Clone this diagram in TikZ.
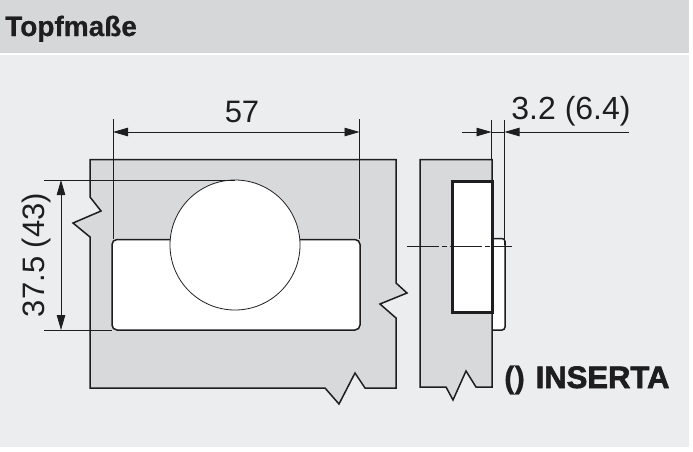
\documentclass[tikz,border=0pt]{standalone}
\usepackage{fontspec}
\setmainfont{Liberation Sans}
\newfontfamily\heavyfont[FakeBold=2.2]{Liberation Sans Bold}
\newfontfamily\semifont[FakeBold=0.6]{Liberation Sans Bold}
\usetikzlibrary{arrows.meta}
\definecolor{bgc}{HTML}{ECEDEF}
\definecolor{hdr}{HTML}{D6D7D9}
\definecolor{part}{HTML}{D8D9DB}
\definecolor{ink}{HTML}{1E1E20}
\tikzset{x=1pt,y=-1pt,
 outline/.style={draw=ink,line width=1.5pt,line join=miter},
 pocket/.style={draw=ink,fill=white,line width=1.5pt},
 thin line/.style={draw=ink,line width=0.8pt},
 dim/.style={draw=ink,line width=0.8pt,{Triangle[length=15pt,width=8.5pt]}-{Triangle[length=15pt,width=8.5pt]}},
 tipr/.style={draw=ink,line width=0.8pt,-{Triangle[length=15pt,width=8.5pt]}},
 lbl/.style={text=ink,font=\fontsize{31}{31}\selectfont,inner sep=0pt}}
\begin{document}
\begin{tikzpicture}
\useasboundingbox (0,0) rectangle (693,451);
\fill[white] (0,0) rectangle (693,451);
\fill[bgc] (0,55) rectangle (689,447);
\fill[hdr] (0,0) rectangle (689,53);
\node[anchor=base west,inner sep=0pt,text=ink,font=\fontsize{28}{28}\selectfont\semifont] (title) at (5,36) {Topfmaße};
% left part
\path[outline,fill=part] (90,159.5) -- (396,159.5) -- (396,283) -- (407,293) -- (380,304) -- (396,318) -- (396,388) -- (365,388) -- (355,373) -- (339,404) -- (325,388) -- (90,388) -- (90,237) -- (73,223) -- (101,211) -- (90,197) -- cycle;
\path[pocket,rounded corners=5pt] (112,239.5) rectangle (360,330);
\fill[white] (235,245) circle (65);
\draw[thin line] (235,245) circle (65);
% right part
\path[outline,fill=white,rounded corners=3pt] (492,238.5) -- (505,238.5) -- (505,330) -- (492,330);
\path[outline,fill=part] (420,159.5) -- (492,159.5) -- (492,387) -- (476,387) -- (466,371) -- (453,400) -- (446,387) -- (420,387) -- cycle;
\path[draw=ink,fill=white,line width=3pt] (452,181.5) rectangle (492,312);
% extension lines
\draw[thin line] (113,119) -- (113,239);
\draw[thin line] (359.5,119) -- (359.5,239);
\draw[thin line] (44,180) -- (235,180);
\draw[thin line] (44,330) -- (112,330);
\draw[thin line] (491.5,120) -- (491.5,160);
\draw[thin line] (504.5,120) -- (504.5,245);
\coordinate (h1) at (113,132);\coordinate (h2) at (359.5,132);
\draw[dim] (h1) -- (h2);
\coordinate (v1) at (61,180);\coordinate (v2) at (61,330);
\draw[dim] (v1) -- (v2);
\coordinate (a0) at (462,132);\coordinate (a1) at (491.5,132);
\coordinate (b0) at (629,132);\coordinate (b1) at (504.5,132);
\draw[tipr] (a0) -- (a1);
\draw[tipr] (b0) -- (b1);
\draw[thin line] (a1) -- (b1);
% centre line
\draw[thin line,dash pattern=on 32pt off 3pt on 5pt off 3pt] (407,246) -- (512,246);
% labels
\node[lbl] (t57) at (242,112) {57};
\node[lbl,font=\fontsize{32}{32}\selectfont] (t32) at (571,111) {3.2 (6.4)};
\node[lbl,rotate=90] (t37) at (36,255) {37.5 (43)};
\node[anchor=base west,inner sep=0pt,text=ink,font=\fontsize{31}{31}\selectfont\semifont] (par) at (504,388) {()};
\node[anchor=base west,inner sep=0pt,text=ink,font=\fontsize{31}{31}\selectfont\heavyfont] (ins) at (535.5,388) {INSERTA};
\end{tikzpicture}
\end{document}
